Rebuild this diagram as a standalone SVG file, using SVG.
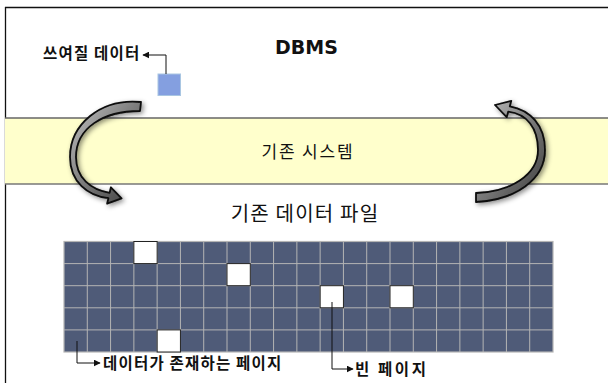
<svg xmlns="http://www.w3.org/2000/svg" width="608" height="383" viewBox="0 0 608 383">
<style>
.kr{font-family:"Noto Sans CJK KR","Noto Sans",sans-serif;fill:#111}
.lbl{font-weight:600}
.empty{fill:#FFFFFF;stroke:#222;stroke-width:1}
.lead{fill:none;stroke:#111;stroke-width:1}
.curve{fill:url(#g);stroke:#0a0a0a;stroke-width:1.8;stroke-linejoin:round}
</style>
<defs>
<marker id="ah" viewBox="0 0 10 10" refX="9" refY="5" markerWidth="7" markerHeight="7" markerUnits="userSpaceOnUse" orient="auto">
<path d="M0,0 L10,5 L0,10 Z" fill="#111"/>
</marker>
<linearGradient id="g" x1="0" y1="0" x2="1" y2="1">
<stop offset="0" stop-color="#c4c4c4"/>
<stop offset="0.5" stop-color="#7a7a7a"/>
<stop offset="1" stop-color="#3a3a3a"/>
</linearGradient>
<filter id="sh" x="-40%" y="-40%" width="180%" height="180%">
<feGaussianBlur in="SourceAlpha" stdDeviation="2.5"/>
<feOffset dx="2" dy="2" result="b"/>
<feFlood flood-color="#000" flood-opacity="0.45"/>
<feComposite in2="b" operator="in"/>
<feMerge><feMergeNode/><feMergeNode in="SourceGraphic"/></feMerge>
</filter>
</defs>
<rect x="0" y="0" width="608" height="383" fill="#fff"/>
<g id="frame">
<path d="M5,7.5 H608 M5.5,7 V383" fill="none" stroke="#111" stroke-width="1.3"/>
</g>
<g id="dbms">
<text x="306.5" y="54" text-anchor="middle" font-family="DejaVu Sans" font-weight="bold" font-size="19" fill="#111">DBMS</text>
</g>
<g id="legacy-system">
<rect x="5" y="118" width="603" height="66" fill="#FFFFCC"/>
<path d="M5,118 H608" stroke="#666" stroke-width="1.6"/>
<path d="M5,184 H608" stroke="#777" stroke-width="1.6"/>
<text class="kr" x="308" y="158" text-anchor="middle" font-size="17" letter-spacing="1.8">기존 시스템</text>
</g>
<g id="data-to-write">
<rect x="158" y="74" width="22.5" height="21.5" fill="#849FE0" stroke="#A9C6E2" stroke-width="1"/>
<text class="kr lbl" x="43" y="58.5" font-size="15.5" letter-spacing="1.2">쓰여질 데이터</text>
</g>
<g id="legacy-data-file">
<text class="kr" x="305" y="221" text-anchor="middle" font-size="20" letter-spacing="1.2" fill="#222">기존 데이터 파일</text>
<g id="grid">
<rect x="64" y="241.5" width="489" height="110.5" fill="#4F5B78" stroke="#B4B4B4" stroke-width="1.2"/>
<path d="M87.29,241.5V352 M110.57,241.5V352 M133.86,241.5V352 M157.14,241.5V352 M180.43,241.5V352 M203.71,241.5V352 M227,241.5V352 M250.29,241.5V352 M273.57,241.5V352 M296.86,241.5V352 M320.14,241.5V352 M343.43,241.5V352 M366.71,241.5V352 M390,241.5V352 M413.29,241.5V352 M436.57,241.5V352 M459.86,241.5V352 M483.14,241.5V352 M506.43,241.5V352 M529.71,241.5V352 M64,263.6H553 M64,285.7H553 M64,307.8H553 M64,329.9H553" stroke="#B4B4B4" stroke-width="1" fill="none"/>
<rect class="empty" x="133.86" y="241.5" width="23.29" height="22.1"/>
<rect class="empty" x="227" y="263.6" width="23.29" height="22.1"/>
<rect class="empty" x="320.14" y="285.7" width="23.29" height="22.1"/>
<rect class="empty" x="390" y="285.7" width="23.29" height="22.1"/>
<rect class="empty" x="157.14" y="329.9" width="23.29" height="22.1"/>
</g>
</g>
<g id="label-used-page">
<text class="kr lbl" x="103" y="369" font-size="15.5" letter-spacing="1.2">데이터가 존재하는 페이지</text>
</g>
<g id="label-empty-page">
<text class="kr lbl" x="355" y="375" font-size="15.5" letter-spacing="2.6">빈 페이지</text>
</g>
<g id="connectors">
<path class="lead" d="M166,74 V55 H143" marker-end="url(#ah)"/>
<path class="lead" d="M77,341 V363 H100" marker-end="url(#ah)"/>
<path class="lead" d="M332,302 V369 H353" marker-end="url(#ah)"/>
<path class="curve" filter="url(#sh)" d="M141,102 C100,98 70,125 70,157 C70,182 88,196 108.4,198.2 L107.1,203.7 L121.6,198.4 L110.9,187.3 L109.6,192.8 C91,190 76,178 76,157 C76,128 103,111 140,111 Z"/>
<path class="curve" filter="url(#sh)" d="M509.8,106.3 C530,110 545,125 545,150 C545,180 515,200 476,202 L476,193 C510,192 538,175 538,150 C538,128 527,114 508.2,111.7 L506.7,117.2 L495,105 L511.3,100.8 Z"/>
</g>
</svg>
